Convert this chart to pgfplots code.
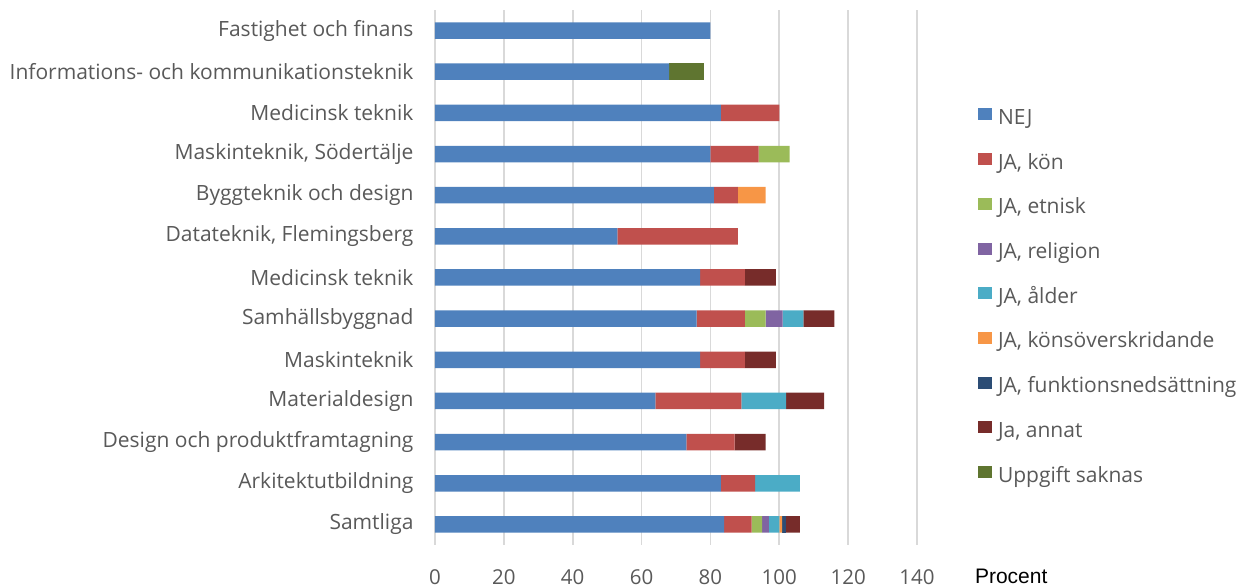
\documentclass[border=0pt]{standalone}
\usepackage{pgfplots}
\pgfplotsset{compat=1.18}
\usepackage{fontspec}
\setmainfont{Open Sans}
\newfontfamily\arialfont{Liberation Sans}
\definecolor{cNEJ}{HTML}{4F81BD}
\definecolor{cKon}{HTML}{C0504D}
\definecolor{cEtn}{HTML}{9BBB59}
\definecolor{cRel}{HTML}{8064A2}
\definecolor{cAld}{HTML}{4BACC6}
\definecolor{cKov}{HTML}{F79646}
\definecolor{cFun}{HTML}{2C4D75}
\definecolor{cAnn}{HTML}{772C2A}
\definecolor{cUpp}{HTML}{5F7530}
\definecolor{gridc}{HTML}{D9D9D9}
\definecolor{txt}{HTML}{595959}
\begin{document}
\begin{tikzpicture}
\begin{axis}[name=ax,
  scale only axis, width=482pt, height=535pt,
  xbar stacked, bar width=16.5pt,
  xmin=0, xmax=140, ymin=-0.5, ymax=12.5,
  xtick={0,20,...,140}, ytick={0,...,12},
  yticklabels={Samtliga, Arkitektutbildning, Design och produktframtagning, Materialdesign, Maskinteknik, Samhällsbyggnad, Medicinsk teknik, {Datateknik, Flemingsberg}, Byggteknik och design, {Maskinteknik, Södertälje}, Medicinsk teknik, Informations- och kommunikationsteknik, Fastighet och finans},
  axis line style={draw=none}, major tick length=0pt,
  xmajorgrids, grid style={line width=1.6pt, color=gridc},
  /pgf/number format/assume math mode=true,
  xticklabel style={font=\fontsize{20.5}{24}\selectfont, text=txt, yshift=-21pt},
  yticklabel style={font=\fontsize{21}{24}\selectfont, text=txt, anchor=east, xshift=-18pt},
  legend style={at={(1.12,0.82)}, anchor=north west, draw=none, fill=none,
    font=\fontsize{21}{24}\selectfont, text=txt, row sep=24.7pt,
    nodes={text height=14pt, text depth=4pt, inner sep=0pt},
    /tikz/every odd column/.append style={column sep=6pt}},
  legend cell align=left,
  legend image code/.code={\fill[#1] (0pt,-1pt) rectangle (14pt,11pt);},
  clip=false,
]
\addplot[fill=cNEJ, draw=none] coordinates {(84,0) (83,1) (73,2) (64,3) (77,4) (76,5) (77,6) (53,7) (81,8) (80,9) (83,10) (68,11) (80,12)};
\addplot[fill=cKon, draw=none] coordinates {(8,0) (10,1) (14,2) (25,3) (13,4) (14,5) (13,6) (35,7) (7,8) (14,9) (17,10) (0,11) (0,12)};
\addplot[fill=cEtn, draw=none] coordinates {(3,0) (0,1) (0,2) (0,3) (0,4) (6,5) (0,6) (0,7) (0,8) (9,9) (0,10) (0,11) (0,12)};
\addplot[fill=cRel, draw=none] coordinates {(2,0) (0,1) (0,2) (0,3) (0,4) (5,5) (0,6) (0,7) (0,8) (0,9) (0,10) (0,11) (0,12)};
\addplot[fill=cAld, draw=none] coordinates {(3,0) (13,1) (0,2) (13,3) (0,4) (6,5) (0,6) (0,7) (0,8) (0,9) (0,10) (0,11) (0,12)};
\addplot[fill=cKov, draw=none] coordinates {(0.8,0) (0,1) (0,2) (0,3) (0,4) (0,5) (0,6) (0,7) (8,8) (0,9) (0,10) (0,11) (0,12)};
\addplot[fill=cFun, draw=none] coordinates {(1.2,0) (0,1) (0,2) (0,3) (0,4) (0,5) (0,6) (0,7) (0,8) (0,9) (0,10) (0,11) (0,12)};
\addplot[fill=cAnn, draw=none] coordinates {(4,0) (0,1) (9,2) (11,3) (9,4) (9,5) (9,6) (0,7) (0,8) (0,9) (0,10) (0,11) (0,12)};
\addplot[fill=cUpp, draw=none] coordinates {(0,0) (0,1) (0,2) (0,3) (0,4) (0,5) (0,6) (0,7) (0,8) (0,9) (0,10) (10,11) (0,12)};
\legend{NEJ, {JA, kön}, {JA, etnisk}, {JA, religion}, {JA, ålder}, {JA, könsöverskridande}, {JA, funktionsnedsättning}, {Ja, annat}, Uppgift saknas}
\node[anchor=west, font=\arialfont\fontsize{21}{24}\selectfont, inner sep=0pt] at (rel axis cs:1.12,-0.058) {Procent};
\end{axis}
\path (ax.south west) ++(-435pt,-42pt) rectangle ++(1249pt,587pt);
\end{tikzpicture}
\end{document}
